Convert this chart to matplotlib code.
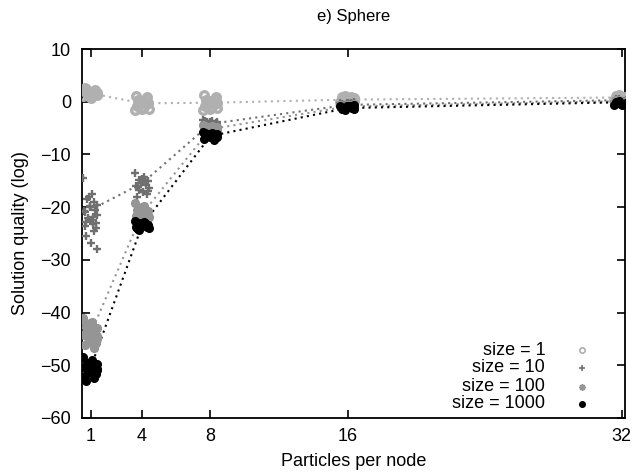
import numpy as np
import matplotlib
matplotlib.use('Agg')
import matplotlib.pyplot as plt

plt.rcParams.update({
    'font.family': ['Liberation Sans', 'DejaVu Sans'],
    'font.size': 13,
    'axes.linewidth': 1.3,
})

# x positions (particles per node)
particles = [1, 4, 8, 16, 32]
xtick_labels = ['1', '4', '8', '16', '32']

labels = ['size = 1', 'size = 10', 'size = 100', 'size = 1000']

# dotted mean lines
mean_s1 = [1.6, -0.3, -0.2, 0.4, 0.8]
mean_s10 = [-20.5, -15.5, -4.2, -0.6, 0.3]
mean_s100 = [-44.0, -21.3, -5.2, -0.9, 0.1]
mean_s1000 = [-50.5, -23.5, -6.5, -1.2, -0.1]

# horizontal spread of the runs around each x
jitter = [-0.42, 0.10, -0.20, 0.35, -0.05, 0.25, -0.35, 0.40,
          -0.15, 0.05, 0.30, -0.30, 0.18, -0.25, 0.00, 0.38,
          -0.10, 0.22, -0.38, 0.12, -0.28, 0.32, -0.02, 0.15]

# individual runs, one list per x position
runs_s1 = [
    [1.0, 1.3, 1.5, 1.7, 1.9, 2.2, 2.6, 1.2, 1.8, 0.7, 1.6, 2.0, 1.4, 2.4, 1.1, 1.6],
    [-1.6, -1.0, -0.6, -0.2, 0.2, 0.6, 1.1, -1.3, -0.4, 0.0, 0.8, -0.8, -0.1, 0.4, -1.4, -0.3],
    [-1.6, -1.0, -0.6, -0.2, 0.2, 0.6, 1.2, -1.2, -0.4, 0.0, 0.9, -0.8, -0.1, 0.4, -1.4, -0.3],
    [-0.1, 0.2, 0.4, 0.7, 0.3, 0.5, 0.9, 0.1, 1.1, 0.4, 0.6, 0.2, 0.8, 0.3, 0.0, 0.5],
    [0.4, 0.6, 0.8, 1.0, 0.5, 0.7, 1.1, 0.3, 1.3, 0.6, 0.9, 0.5, 0.8, 1.0, 0.4, 0.7],
]
runs_s10 = [
    [-14.5, -17.5, -18.5, -19.5, -20.0, -20.5, -21.0, -21.5,
     -22.0, -22.5, -23.0, -23.5, -24.5, -25.5, -26.8, -28.0,
     -18.0, -19.0, -20.8, -21.8, -22.8, -24.0, -19.8, -23.2],
    [-13.5, -14.2, -14.8, -15.0, -15.4, -15.8, -16.0, -16.4,
     -16.8, -17.2, -17.6, -18.0, -15.2, -16.2, -14.6, -16.9],
    [-3.4, -3.7, -3.9, -4.1, -4.3, -4.5, -4.7, -3.8, -4.2, -4.0, -4.4, -3.6, -4.8, -4.1, -3.9, -4.3],
    [-0.2, -0.4, -0.6, -0.8, -0.3, -0.5, -0.7, -0.1, -0.9, -0.4, -0.6, -0.5, -0.3, -0.7, -0.2, -0.6],
    [0.0, 0.2, 0.4, 0.5, 0.1, 0.3, 0.6, -0.1, 0.5, 0.2, 0.4, 0.3, 0.1, 0.4, 0.0, 0.3],
]
runs_s100 = [
    [-41.0, -41.8, -42.5, -43.0, -43.4, -43.8, -44.1, -44.5,
     -44.9, -45.3, -45.7, -46.2, -46.8, -42.0, -43.6, -45.0,
     -42.3, -43.2, -44.3, -45.5, -42.8, -44.7, -43.9, -46.0],
    [-19.2, -19.8, -20.3, -20.7, -21.0, -21.3, -21.6, -21.9,
     -22.2, -22.5, -22.8, -20.5, -21.2, -21.8, -20.0, -22.1],
    [-4.5, -4.7, -4.9, -5.1, -5.3, -5.5, -5.7, -4.8, -5.2, -5.0, -5.4, -4.6, -5.6, -5.1, -4.9, -5.3],
    [-0.6, -0.8, -1.0, -1.2, -0.7, -0.9, -1.1, -0.5, -1.3, -0.8, -1.0, -0.9, -0.7, -1.1, -0.6, -1.0],
    [-0.2, 0.0, 0.2, 0.4, -0.1, 0.1, 0.3, -0.3, 0.4, 0.0, 0.2, 0.1, -0.1, 0.3, -0.2, 0.1],
]
runs_s1000 = [
    [-48.5, -49.0, -49.5, -49.8, -50.0, -50.3, -50.5, -50.7,
     -51.0, -51.3, -51.6, -52.0, -52.5, -53.0, -50.2, -50.9],
    [-22.6, -22.9, -23.1, -23.3, -23.5, -23.6, -23.8, -24.0,
     -24.3, -23.2, -23.7, -23.9, -23.0, -24.1, -23.4, -23.6],
    [-5.8, -6.0, -6.2, -6.4, -6.6, -6.8, -7.0, -6.1, -6.5, -6.3, -6.7, -5.9, -7.2, -6.4, -6.2, -6.6],
    [-0.8, -1.0, -1.2, -1.4, -0.9, -1.1, -1.3, -0.7, -1.6, -1.0, -1.2, -1.1, -0.9, -1.4, -0.8, -1.2],
    [-0.6, -0.4, -0.2, 0.0, -0.5, -0.3, -0.1, -0.7, 0.1, -0.4, -0.2, -0.3, -0.5, -0.1, -0.6, -0.3],
]

series = [
    (runs_s1, mean_s1, dict(marker='o', mfc='none', mec='#b0b0b0', ms=5.5, mew=2.4), '#b0b0b0'),
    (runs_s10, mean_s10, dict(marker='+', mfc='none', mec='#707070', ms=6, mew=1.7), '#707070'),
    (runs_s100, mean_s100, dict(marker=(8, 2, 0), mfc='none', mec='#959595', ms=6.5, mew=1.8), '#959595'),
    (runs_s1000, mean_s1000, dict(marker='o', mfc='black', mec='black', ms=5.5, mew=1), 'black'),
]

fig = plt.figure(figsize=(6.39, 4.76), dpi=100)
ax = fig.add_axes([82 / 639, 1 - 418 / 476, (625 - 82) / 639, (418 - 49) / 476])

for runs, means, mstyle, color in series:
    ax.plot(particles, means, linestyle=(0, (1, 2)), color=color, linewidth=1.5, zorder=2)
    for x, ys in zip(particles, runs):
        xs = [x + j for j in jitter[:len(ys)]]
        ax.plot(xs, ys, linestyle='none', zorder=3, **mstyle)

# legend drawn by hand so that labels are right-aligned as in gnuplot
legend_rows = [0.184, 0.136, 0.085, 0.038]
for (runs, means, mstyle, color), label, yr in zip(series, labels, legend_rows):
    ax.text(0.853, yr, label, transform=ax.transAxes, ha='right', va='center')
    small = dict(mstyle)
    small['ms'] = small['ms'] * 0.7
    small['mew'] = 1.2
    ax.plot([0.921], [yr], transform=ax.transAxes, linestyle='none', **small)

ax.set_xlim(0.5, 32.2)
ax.set_ylim(-60, 10)
ax.set_xticks(particles)
ax.set_xticklabels(xtick_labels)
ax.set_yticks(np.arange(-60, 11, 10))
ax.tick_params(direction='in', length=6, width=1.2, top=True, right=True, pad=7)
ax.tick_params(axis='y', pad=8)

ax.set_xlabel('Particles per node', labelpad=6)
ax.set_ylabel('Solution quality (log)', labelpad=8)
fig.text((82 + 625) / 2 / 639, 1 - 16 / 476, 'e) Sphere', ha='center', va='center', fontsize=12)

fig.savefig('out.png', dpi=100)
